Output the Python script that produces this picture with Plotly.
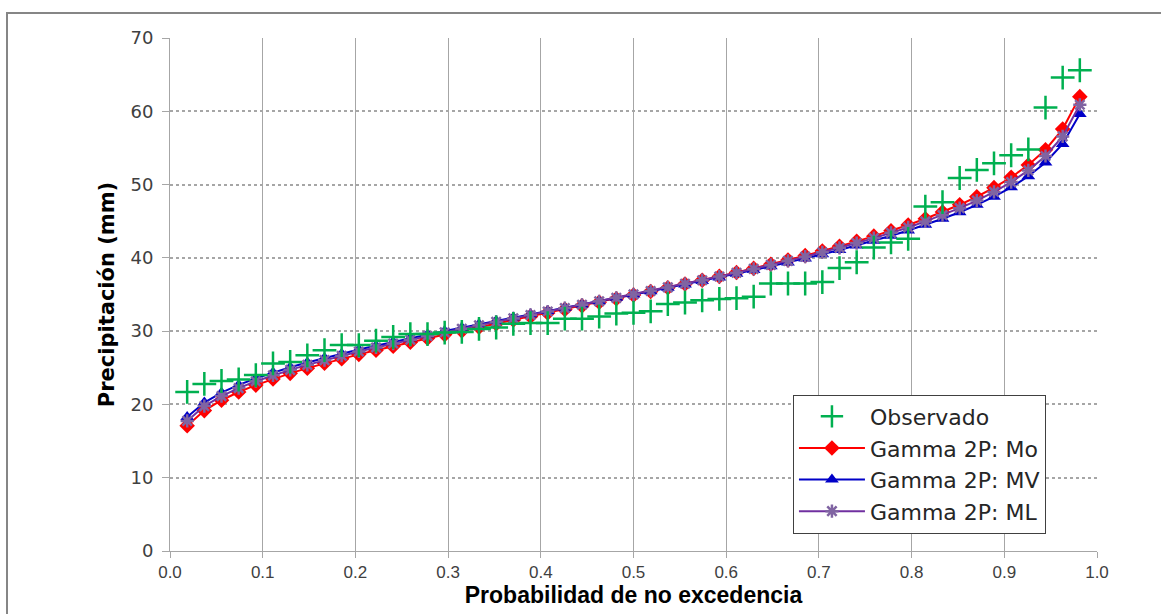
import plotly.graph_objects as go

# Plotting positions i/(n+1), n = 53
n_obs = 53
prob = [i / (n_obs + 1) for i in range(1, n_obs + 1)]

observado = [21.7, 22.8, 23.2, 23.4, 24.0, 25.6, 25.8, 26.7, 27.4, 28.1, 28.1,
             28.7, 29.2, 29.6, 29.6, 29.8, 29.9, 30.3, 30.5, 31.0, 31.1, 31.1,
             31.7, 31.7, 32.0, 32.4, 32.5, 32.7, 33.7, 33.9, 34.2, 34.4, 34.5,
             34.7, 36.5, 36.5, 36.5, 36.7, 38.6, 39.4, 41.4, 42.1, 42.6,
             47.0, 47.6, 50.9, 52.0, 52.9, 54.0, 54.8, 60.5, 64.6, 65.6]

gamma_mo = [17.10, 19.16, 20.57, 21.69, 22.64, 23.48, 24.24, 24.95, 25.61, 26.23,
            26.83, 27.40, 27.95, 28.49, 29.02, 29.53, 30.04, 30.53, 31.02, 31.52,
            32.01, 32.49, 32.97, 33.45, 33.94, 34.43, 34.92, 35.41, 35.92, 36.43,
            36.95, 37.47, 38.01, 38.56, 39.13, 39.71, 40.30, 40.93, 41.57, 42.25,
            42.96, 43.70, 44.49, 45.34, 46.25, 47.24, 48.34, 49.58, 50.99, 52.67,
            54.75, 57.57, 62.00]

gamma_mv = [18.28, 20.26, 21.60, 22.66, 23.55, 24.35, 25.07, 25.73, 26.35, 26.93,
            27.49, 28.02, 28.54, 29.04, 29.53, 30.01, 30.48, 30.94, 31.39, 31.85,
            32.30, 32.75, 33.19, 33.63, 34.08, 34.54, 34.99, 35.44, 35.91, 36.38,
            36.85, 37.33, 37.82, 38.33, 38.85, 39.38, 39.92, 40.49, 41.08, 41.70,
            42.34, 43.02, 43.73, 44.51, 45.33, 46.23, 47.23, 48.35, 49.62, 51.13,
            53.01, 55.54, 59.63]

gamma_ml = [17.75, 19.77, 21.14, 22.23, 23.16, 23.97, 24.72, 25.40, 26.04, 26.64,
            27.22, 27.77, 28.31, 28.82, 29.34, 29.83, 30.32, 30.79, 31.26, 31.74,
            32.21, 32.68, 33.14, 33.60, 34.07, 34.54, 35.01, 35.48, 35.97, 36.46,
            36.95, 37.45, 37.97, 38.49, 39.04, 39.59, 40.16, 40.75, 41.37, 42.02,
            42.69, 43.41, 44.15, 44.97, 45.83, 46.78, 47.82, 49.00, 50.34, 51.93,
            53.90, 56.57, 60.89]

x_ticks = [0.0, 0.1, 0.2, 0.3, 0.4, 0.5, 0.6, 0.7, 0.8, 0.9, 1.0]
y_ticks = [0, 10, 20, 30, 40, 50, 60, 70]

WIDE = "'DejaVu Sans', sans-serif"
NARROW = "'Liberation Sans', sans-serif"

fig = go.Figure()

fig.add_trace(go.Scatter(
    x=prob, y=gamma_mo, name="Gamma 2P: Mo", mode="lines+markers",
    line=dict(color="#FF0000", width=2),
    marker=dict(symbol="diamond", size=12, color="#FF0000"),
    legendrank=2))
fig.add_trace(go.Scatter(
    x=prob, y=gamma_mv, name="Gamma 2P: MV", mode="lines+markers",
    line=dict(color="#0000C8", width=2),
    marker=dict(symbol="triangle-up", size=12, color="#0000C8"),
    legendrank=3))
fig.add_trace(go.Scatter(
    x=prob, y=gamma_ml, name="Gamma 2P: ML", mode="lines+markers",
    line=dict(color="#7030A0", width=2),
    marker=dict(symbol="asterisk-open", size=11, color="#8064A2",
                line=dict(color="#8064A2", width=2.5)),
    legendrank=4))
fig.add_trace(go.Scatter(
    x=prob, y=observado, name="Observado", mode="markers",
    marker=dict(symbol="cross-thin-open", size=17, color="#00B050",
                line=dict(color="#00B050", width=2.5)),
    legendrank=1))

fig.update_layout(
    width=1161, height=614,
    margin=dict(l=170, r=64, t=38, b=63),
    paper_bgcolor="white", plot_bgcolor="white",
    font=dict(family=WIDE, size=16, color="#404040"),
    showlegend=True,
    legend=dict(
        x=0.672, y=0.305, xanchor="left", yanchor="top",
        bgcolor="white", bordercolor="#404040", borderwidth=1,
        font=dict(family=WIDE, size=22, color="#262626"),
        itemwidth=66, tracegroupgap=0,
    ),
    xaxis=dict(
        range=[0, 1], tickvals=x_ticks, ticktext=[f"{v:.1f}" for v in x_ticks],
        showgrid=True, gridcolor="#A6A6A6", gridwidth=1,
        showline=True, linecolor="#A6A6A6", linewidth=1,
        ticks="outside", ticklen=6, tickcolor="#A6A6A6",
        tickfont=dict(family=NARROW, size=17, color="#404040"),
        zeroline=False,
        title=dict(text="<b>Probabilidad de no excedencia</b>",
                   font=dict(family=NARROW, size=23, color="#000000"),
                   standoff=1),
    ),
    yaxis=dict(
        range=[0, 70], tickvals=y_ticks,
        showgrid=True, gridcolor="#A6A6A6", gridwidth=2, griddash="dot",
        showline=True, linecolor="#A6A6A6", linewidth=1,
        ticks="outside", ticklen=7, tickcolor="#A6A6A6",
        ticklabelstandoff=5,
        tickfont=dict(family=WIDE, size=18, color="#404040"),
        zeroline=False,
        title=dict(text="<b>Precipitación (mm)</b>",
                   font=dict(family=WIDE, size=21, color="#000000"),
                   standoff=10),
    ),
    shapes=[dict(type="rect", xref="paper", yref="paper",
                 x0=(7 - 170) / 927, x1=(1175 - 170) / 927,
                 y0=(551 - 625) / 513, y1=(551 - 13) / 513,
                 line=dict(color="#868686", width=2), layer="below")],
)

fig.write_html("out.html")
